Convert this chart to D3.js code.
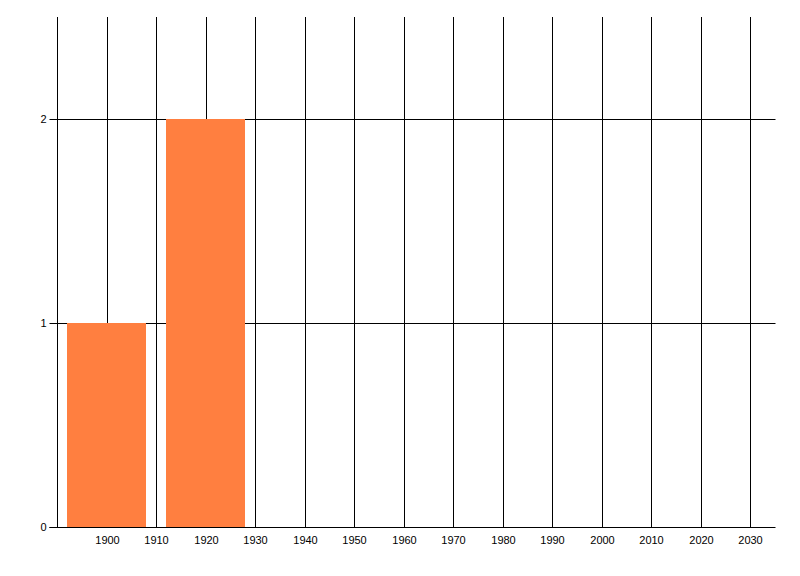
<!DOCTYPE html>
<html>
<head>
<meta charset="utf-8">
<script src="https://cdn.jsdelivr.net/npm/d3@7"></script>
<style>
  html, body { margin: 0; padding: 0; background: #fff; }
  svg { display: block; }
  text { font-family: "Liberation Sans", Arial, sans-serif; font-size: 11px; fill: #000; }
</style>
</head>
<body>
<svg id="chart" width="800" height="576"></svg>
<script>
// ---- data ----
const years = [1900, 1920];
const counts = [1, 2];
const barWidthYears = 16;
const xTicks = [1900, 1910, 1920, 1930, 1940, 1950, 1960, 1970, 1980, 1990, 2000, 2010, 2020, 2030];
const yTicks = [0, 1, 2];
const xDomain = [1890, 2035];
const yDomain = [0, 2.5];

const svg = d3.select("#chart");
const plotLeft = 57.5, plotRight = 775.5, plotTop = 17, plotBottom = 527.5;

const x = d3.scaleLinear().domain(xDomain).range([plotLeft, plotRight]);
const y = d3.scaleLinear().domain(yDomain).range([plotBottom, plotTop]);
const px = v => Math.round(x(v) - 0.5) + 0.5;
const py = v => Math.round(y(v) - 0.5) + 0.5;

// vertical gridlines
svg.append("g").selectAll("line").data(xTicks).join("line")
  .attr("x1", d => px(d)).attr("x2", d => px(d))
  .attr("y1", plotTop).attr("y2", plotBottom)
  .attr("stroke", "#000").attr("stroke-width", 1);

// horizontal gridlines
svg.append("g").selectAll("line").data(yTicks.filter(d => d > 0)).join("line")
  .attr("x1", plotLeft).attr("x2", plotRight)
  .attr("y1", d => py(d)).attr("y2", d => py(d))
  .attr("stroke", "#000").attr("stroke-width", 1);

// bars
const data = years.map((yr, i) => ({ yr, v: counts[i] }));
svg.append("g").selectAll("rect").data(data).join("rect")
  .attr("x", d => Math.floor(x(d.yr - barWidthYears / 2)))
  .attr("width", d => Math.floor(x(d.yr + barWidthYears / 2)) - Math.floor(x(d.yr - barWidthYears / 2)))
  .attr("y", d => Math.round(y(d.v)))
  .attr("height", d => Math.round(y(0)) - Math.round(y(d.v)))
  .attr("fill", "#ff7f40");

// y axis
const yAxis = d3.axisLeft(y).tickValues(yTicks).tickSize(8).tickPadding(3).tickFormat(d3.format("d"));
const gy = svg.append("g").attr("transform", `translate(${plotLeft},0)`).call(yAxis);
gy.select(".domain").remove();
gy.selectAll(".tick").attr("transform", d => `translate(0,${py(d)})`);
gy.selectAll(".tick line").attr("stroke", "#000");
gy.selectAll(".tick text").attr("font-size", 11).attr("font-family", "Liberation Sans, Arial, sans-serif");
svg.append("line").attr("x1", plotLeft).attr("x2", plotLeft).attr("y1", plotTop).attr("y2", plotBottom + 0.5)
  .attr("stroke", "#000");

// x axis
const xAxis = d3.axisBottom(x).tickValues(xTicks).tickSize(0).tickPadding(9).tickFormat(d3.format("d"));
const gx = svg.append("g").attr("transform", `translate(0,${plotBottom})`).call(xAxis);
gx.select(".domain").remove();
gx.selectAll(".tick").attr("transform", d => `translate(${px(d)},0)`);
gx.selectAll(".tick text").attr("font-size", 11).attr("font-family", "Liberation Sans, Arial, sans-serif");
svg.append("line").attr("x1", plotLeft - 8).attr("x2", plotRight).attr("y1", plotBottom).attr("y2", plotBottom)
  .attr("stroke", "#000");
</script>
</body>
</html>
